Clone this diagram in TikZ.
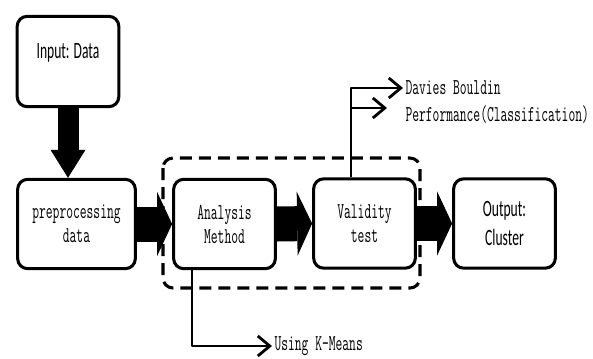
\documentclass[tikz,border=0pt]{standalone}
\usepackage{fontspec}
\setmonofont{Latin Modern Mono}[FakeStretch=0.58]
\newfontfamily\calfont{Carlito}[FakeStretch=0.58]
\usetikzlibrary{arrows.meta}

\begin{document}
\begin{tikzpicture}[x=0.03cm,y=-0.03cm,line join=round,
  box/.style={draw,line width=2.6pt,rounded corners=0.3cm,minimum width=3.05cm,minimum height=2.68cm,align=center},
  mono/.style={font=\ttfamily\fontsize{19.4}{20.5}\selectfont},
  cal/.style={font=\calfont\fontsize{20}{24.7}\selectfont},
  blockarrow/.style={line width=1.05cm,-{Triangle[length=0.45cm,width=1.92cm,line width=0pt]}},
  thinarrow/.style={line width=2pt,-{Straight Barb[length=0.36cm,width=0.6cm,line width=2.4pt]}}]
  \useasboundingbox (0,0) rectangle (593,358);
  % boxes
  \node[box,cal,minimum height=2.71cm,text height=0.45cm,text depth=0.66cm] (input) at (68,61.5) {Input: Data};
  \node[box,mono,minimum width=3.53cm] (prep) at (76.5,224) {preprocessing\\data};
  \node[box,mono] (ana) at (224.5,224) {Analysis\\Method};
  \node[box,mono] (val) at (364.5,223.5) {Validity\\test};
  \node[box,cal] (out) at (504.5,223.5) {Output:\\Cluster};
  % dashed group
  \draw[line width=2.6pt,dash pattern=on 0.36cm off 0.21cm,rounded corners=0.3cm] (163,158) rectangle (420,288);
  % block arrows
  \draw[blockarrow,line width=0.63cm,-{Triangle[length=0.84cm,width=1.05cm,line width=0pt]}] (input.south) -- (input.south |- prep.north);
  \draw[blockarrow] (prep.east) -- (ana.west);
  \draw[blockarrow] (ana.east) -- (val.west);
  \draw[blockarrow] (val.east) -- (out.west);
  % side labels
  \node[mono,anchor=west,inner sep=2pt] (dav) at (403,88) {Davies Bouldin};
  \node[mono,anchor=west,inner sep=2pt] (perf) at (403,115) {Performance(Classification)};
  \node[mono,anchor=west,inner sep=2pt] (km) at (272,346) {Using K-Means};
  \coordinate (vb) at ([xshift=-0.4cm]val.north);
  \coordinate (pa) at (387,108);
  \coordinate (ab) at ([xshift=-0.98cm]ana.south);
  \draw[thinarrow] (vb) |- (dav.west);
  \draw[thinarrow] (vb |- pa) -- (pa);
  \draw[thinarrow] (ab) |- (km.west);
\end{tikzpicture}
\end{document}
